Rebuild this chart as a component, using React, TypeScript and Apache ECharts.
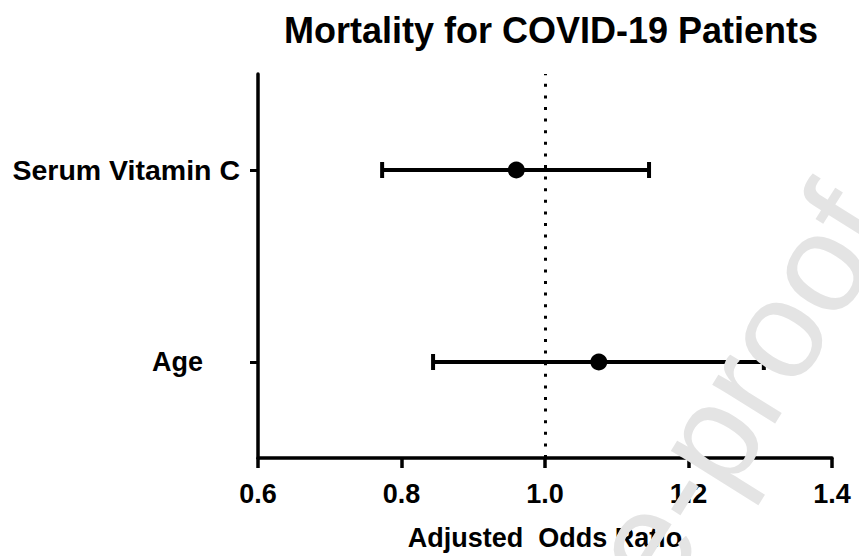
import React, { useEffect, useRef } from 'react';
import * as echarts from 'echarts';

const categories = ['Age', 'Serum Vitamin C'];
const estimates = [1.075, 0.96];
const lowerCI = [0.844, 0.773];
const upperCI = [1.305, 1.145];
const xTicks = [0.6, 0.8, 1.0, 1.2, 1.4];
const referenceValue = 1.0;
const titleText = 'Mortality for COVID-19 Patients';
const xAxisName = 'Adjusted  Odds Ratio';
const watermarkText = 'Journal Pre-proof';

export default function App() {
  const ref = useRef<HTMLDivElement>(null);
  useEffect(() => {
    const chart = echarts.init(ref.current!, null, { renderer: 'svg' });
    const font = '"Liberation Sans", Arial, Helvetica, sans-serif';
    const ciData = categories.map((_, i) => [i, lowerCI[i], upperCI[i]]);
    const pointData = categories.map((_, i) => [estimates[i], i]);
    chart.setOption({
      animation: false,
      backgroundColor: '#ffffff',
      title: {
        text: titleText,
        left: 546,
        top: 7,
        textAlign: 'center',
        textStyle: { fontFamily: font, fontWeight: 'bold', fontSize: 36, color: '#000' },
      },
      grid: { left: 258, right: 27, top: 74, bottom: 98 },
      xAxis: {
        type: 'value',
        min: xTicks[0],
        max: xTicks[xTicks.length - 1],
        interval: 0.2,
        name: xAxisName,
        nameLocation: 'middle',
        nameGap: 66,
        nameTextStyle: { fontFamily: font, fontWeight: 'bold', fontSize: 27, color: '#000' },
        axisLine: { show: true, lineStyle: { color: '#000', width: 3.5 } },
        axisTick: { show: true, length: 10, lineStyle: { color: '#000', width: 3.5 } },
        axisLabel: {
          margin: 22,
          fontFamily: font,
          fontWeight: 'bold',
          fontSize: 27,
          color: '#000',
          formatter: (v: number) => v.toFixed(1),
        },
        splitLine: { show: false },
      },
      yAxis: {
        type: 'category',
        data: categories,
        boundaryGap: true,
        axisLine: { show: true, lineStyle: { color: '#000', width: 3.5 } },
        axisTick: { show: true, alignWithLabel: true, length: 8, lineStyle: { color: '#000', width: 3 } },
        axisLabel: {
          margin: 18,
          fontFamily: font,
          fontWeight: 'bold',
          fontSize: 28,
          color: '#000',
          formatter: (v: string) => (v === 'Age' ? '{a|' + v + '}' : '{b|' + v + '}'),
          rich: {
            a: { fontFamily: font, fontWeight: 'bold', fontSize: 27, color: '#000', padding: [0, 37, 0, 0] },
            b: { fontFamily: font, fontWeight: 'bold', fontSize: 28.5, color: '#000' },
          },
        },
        splitLine: { show: false },
      },
      series: [
        {
          type: 'custom',
          data: ciData,
          encode: { x: [1, 2], y: 0 },
          renderItem: (params: any, api: any) => {
            const idx = api.value(0);
            const lo = api.coord([api.value(1), idx]);
            const hi = api.coord([api.value(2), idx]);
            const h = 8;
            const st = { stroke: '#000', lineWidth: 4 };
            return {
              type: 'group',
              children: [
                { type: 'line', shape: { x1: lo[0], y1: lo[1], x2: hi[0], y2: hi[1] }, style: st },
                { type: 'line', shape: { x1: lo[0], y1: lo[1] - h, x2: lo[0], y2: lo[1] + h }, style: st },
                { type: 'line', shape: { x1: hi[0], y1: hi[1] - h, x2: hi[0], y2: hi[1] + h }, style: st },
              ],
            };
          },
          markLine: {
            silent: true,
            symbol: ['none', 'none'],
            label: { show: false },
            lineStyle: { color: '#000', width: 3, type: [3, 8.6] },
            data: [{ xAxis: referenceValue }],
          },
          z: 2,
        },
        {
          type: 'scatter',
          data: pointData,
          symbol: 'circle',
          symbolSize: 17,
          itemStyle: { color: '#000', opacity: 1 },
          z: 3,
        },
      ],
      graphic: [
        {
          type: 'text',
          x: 570,
          y: 660,
          rotation: (58 * Math.PI) / 180,
          z: 100,
          silent: true,
          style: {
            text: watermarkText,
            fontFamily: font,
            fontSize: 140,
            fill: '#e4e4e4',
            align: 'center',
            verticalAlign: 'middle',
          },
        },
      ],
    });
    return () => chart.dispose();
  }, []);
  return <div ref={ref} style={{ position: 'fixed', left: 0, top: 0, width: 859, height: 556 }} />;
}
